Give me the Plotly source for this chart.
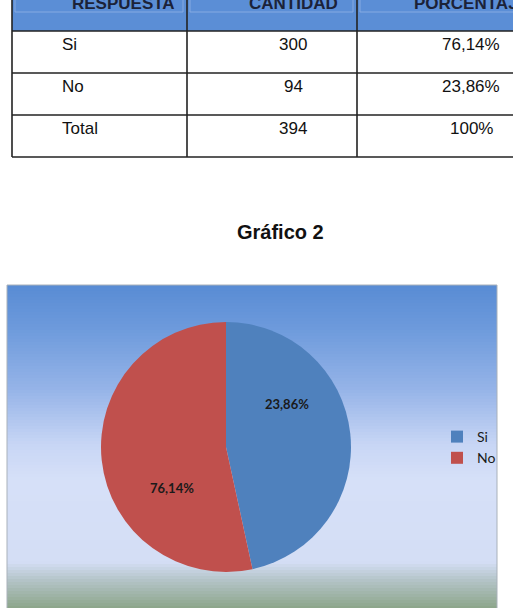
import plotly.graph_objects as go

# ---- data ----
header = ["RESPUESTA", "CANTIDAD", "PORCENTAJE"]
respuestas = ["Si", "No", "Total"]
cantidad = [300, 94, 394]
porcentaje = ["76,14%", "23,86%", "100%"]

chart_title = "Gráfico 2"
pie_labels = ["Si", "No"]
pie_values = [46.6, 53.4]          # slice sizes as drawn in the picture
pie_text = ["23,86%", "76,14%"]    # labels printed on the slices
pie_colors = ["#4F81BD", "#C0504D"]

W, H = 513, 608


def px(x):
    return x / W


def py(y):
    return 1 - y / H


shapes = []
annotations = []

# ---- chart background gradient ----
stops = [
    (285, (88, 139, 212)),
    (330, (110, 155, 220)),
    (390, (150, 180, 232)),
    (445, (200, 214, 245)),
    (480, (214, 224, 248)),
    (562, (212, 222, 245)),
    (580, (180, 196, 200)),
    (608, (140, 165, 138)),
]


def col_at(y):
    for (y0, c0), (y1, c1) in zip(stops[:-1], stops[1:]):
        if y0 <= y <= y1:
            t = (y - y0) / (y1 - y0)
            return "rgb(%d,%d,%d)" % tuple(round(a + (b - a) * t) for a, b in zip(c0, c1))
    return "rgb(%d,%d,%d)" % stops[-1][1]


bx0, bx1, by0, by1 = 7, 497, 285, 608
step = 3
y = by0
while y < by1:
    y2 = min(y + step, by1)
    shapes.append(dict(type="rect", xref="paper", yref="paper", layer="below",
                       x0=px(bx0), x1=px(bx1), y0=py(y2 + 0.5), y1=py(y),
                       fillcolor=col_at(y + step / 2), line=dict(width=0)))
    y = y2
shapes.append(dict(type="rect", xref="paper", yref="paper", layer="below",
                   x0=px(bx0), x1=px(bx1), y0=py(by1 + 2), y1=py(by0),
                   fillcolor="rgba(0,0,0,0)", line=dict(color="#A9B1BA", width=1)))

# ---- table ----
col_x = [12, 187, 357, 560]
row_y = [-20, 31, 73, 115, 157]
shapes.append(dict(type="rect", xref="paper", yref="paper", layer="below",
                   x0=px(col_x[0]), x1=px(col_x[-1]), y0=py(row_y[1]), y1=py(row_y[0]),
                   fillcolor="#5B8ED6", line=dict(width=0)))
# lighter inner cell lines in header
for i in range(3):
    shapes.append(dict(type="rect", xref="paper", yref="paper", layer="below",
                       x0=px(col_x[i] + 3), x1=px(col_x[i + 1] - 4), y0=py(12), y1=py(-10),
                       fillcolor="rgba(0,0,0,0)", line=dict(color="#86AAE2", width=1)))
for yv in row_y[1:]:
    shapes.append(dict(type="line", xref="paper", yref="paper",
                       x0=px(col_x[0]), x1=px(col_x[-1]), y0=py(yv), y1=py(yv),
                       line=dict(color="#222222", width=1.6)))
for xv in col_x[:-1]:
    shapes.append(dict(type="line", xref="paper", yref="paper",
                       x0=px(xv), x1=px(xv), y0=py(row_y[-1]), y1=py(row_y[0]),
                       line=dict(color="#222222", width=1.6)))

hdr_cx = [123, 293, 471]
for txt, cx in zip(header, hdr_cx):
    annotations.append(dict(text="<b>%s</b>" % txt, xref="paper", yref="paper",
                            x=px(cx), y=py(3), xanchor="center", yanchor="middle",
                            showarrow=False,
                            font=dict(family="Liberation Sans, Arial", size=17, color="#1B2238")))

for i, (r, c, p) in enumerate(zip(respuestas, cantidad, porcentaje)):
    yc = row_y[i + 1] + 13
    f = dict(family="Liberation Sans, Arial", size=17, color="#111111")
    annotations.append(dict(text=r, xref="paper", yref="paper", x=px(60), y=py(yc),
                            xanchor="left", yanchor="middle", showarrow=False, font=f))
    annotations.append(dict(text=str(c), xref="paper", yref="paper", x=px(293), y=py(yc),
                            xanchor="center", yanchor="middle", showarrow=False, font=f))
    annotations.append(dict(text=p, xref="paper", yref="paper", x=px(471), y=py(yc),
                            xanchor="center", yanchor="middle", showarrow=False, font=f))

# ---- title ----
annotations.append(dict(text="<b>%s</b>" % chart_title, xref="paper", yref="paper",
                        x=px(280), y=py(232), xanchor="center", yanchor="middle",
                        showarrow=False,
                        font=dict(family="Liberation Sans, Arial", size=20, color="#111111")))

# ---- pie slice labels (placed like the original chart) ----
label_pos = [(287, 404), (172, 488)]
for t, (lx, ly) in zip(pie_text, label_pos):
    annotations.append(dict(text="<b>%s</b>" % t, xref="paper", yref="paper",
                            x=px(lx), y=py(ly), xanchor="center", yanchor="middle",
                            showarrow=False,
                            font=dict(family="Lato, Open Sans", size=13, color="#1a1a1a")))

fig = go.Figure(go.Pie(
    labels=pie_labels,
    values=pie_values,
    sort=False,
    direction="clockwise",
    rotation=0,
    marker=dict(colors=pie_colors, line=dict(width=0)),
    textinfo="none",
    hoverinfo="label+percent",
    domain=dict(x=[px(101), px(351)], y=[py(572), py(322)]),
))

fig.update_layout(
    width=W, height=H,
    margin=dict(l=0, r=0, t=0, b=0),
    paper_bgcolor="white",
    plot_bgcolor="white",
    shapes=shapes,
    annotations=annotations,
    showlegend=True,
    legend=dict(x=px(437), y=py(421), xanchor="left", yanchor="top",
                bgcolor="rgba(0,0,0,0)", font=dict(family="Lato, Open Sans", size=14, color="#1a1a1a"),
                itemwidth=30, tracegroupgap=0),
)

fig.write_html("out.html")
